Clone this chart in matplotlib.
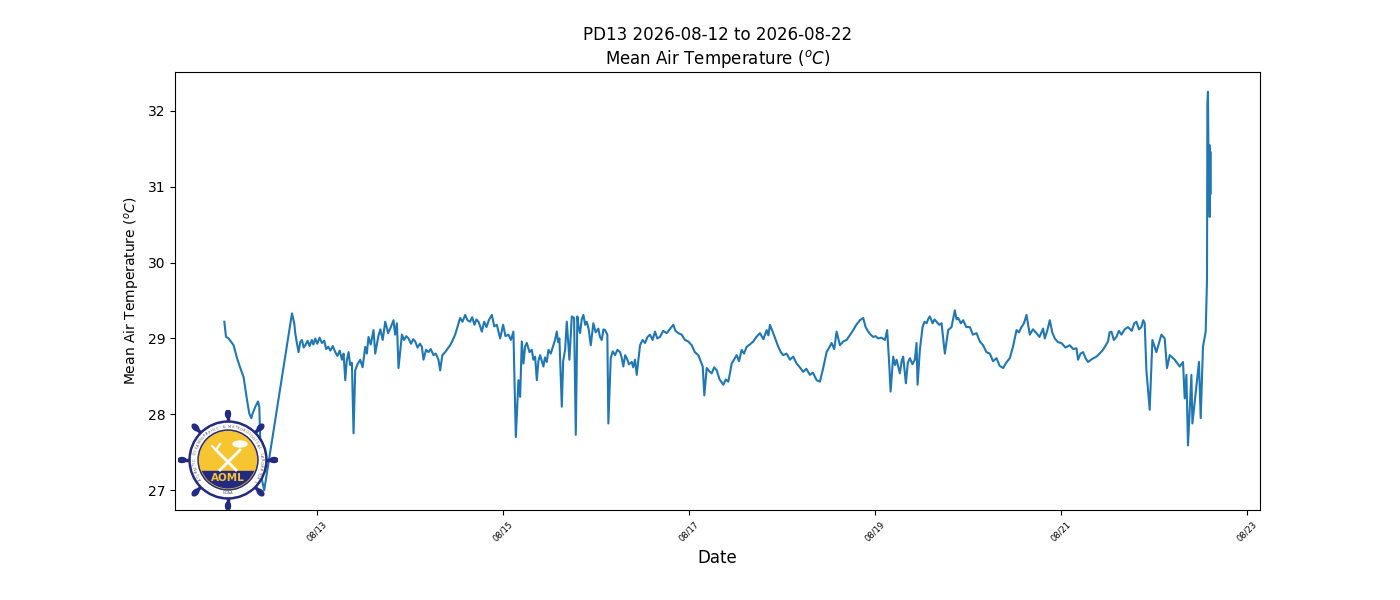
import datetime as dt

import numpy as np
import matplotlib
matplotlib.use('Agg')
from matplotlib import pyplot as plt
import matplotlib.dates as mdates
from matplotlib.patches import Circle, Ellipse, Rectangle

# (hours since 2026-08-12 00:00, mean air temperature in deg C)
aug12 = [(0.0, 29.22), (0.44, 29.02), (1.11, 29.00), (2.40, 28.91), (3.28, 28.74),
         (4.13, 28.61), (4.98, 28.49), (5.86, 28.19), (6.45, 28.01), (6.97, 27.95),
         (7.30, 28.01), (8.00, 28.10), (8.70, 28.17), (9.03, 28.10), (9.55, 27.18),
         (10.14, 27.04), (10.30, 27.00), (17.47, 29.33), (18.06, 29.20), (18.32, 29.07),
         (18.7, 28.95), (19.17, 28.82), (19.6, 28.95), (20.05, 28.98), (20.5, 28.88),
         (20.90, 28.91), (21.5, 28.97), (22.0, 28.90), (22.6, 28.98), (23.0, 28.92),
         (23.48, 29.00)]

aug13 = [(24.0, 28.93), (24.6, 29.01), (25.21, 28.94), (25.8, 28.97), (26.3, 28.86),
         (26.84, 28.89), (27.4, 28.84), (28.0, 28.90), (28.65, 28.82), (29.2, 28.77),
         (29.8, 28.84), (30.37, 28.72), (30.8, 28.80), (31.23, 28.45), (31.6, 28.70),
         (32.08, 28.82), (32.5, 28.65), (32.95, 28.68), (33.37, 27.75), (33.80, 28.58),
         (34.4, 28.66), (35.10, 28.72), (35.7, 28.62), (36.39, 28.89), (36.8, 28.80),
         (37.24, 29.02), (37.8, 28.92), (38.53, 29.11), (38.97, 28.80), (39.74, 29.02),
         (40.3, 29.12), (40.9, 28.98), (41.55, 29.22), (42.32, 29.07), (43.0, 29.15),
         (43.69, 29.24), (44.1, 29.05), (44.57, 29.20), (44.98, 28.61), (45.86, 29.05),
         (46.4, 28.98), (47.0, 29.03), (47.56, 29.00)]

aug14 = [(48.2, 28.93), (48.8, 28.99), (49.29, 28.96), (49.9, 28.88), (50.5, 28.93),
         (51.02, 28.89), (51.43, 28.72), (52.1, 28.85), (52.72, 28.82), (53.3, 28.86),
         (54.01, 28.78), (54.6, 28.80), (55.30, 28.72), (55.74, 28.58), (56.3, 28.78),
         (57.03, 28.82), (57.6, 28.86), (58.32, 28.91), (59.0, 28.98), (59.61, 29.05),
         (60.2, 29.15), (60.90, 29.27), (61.5, 29.22), (62.19, 29.31), (62.8, 29.24),
         (63.48, 29.22), (64.0, 29.28), (64.6, 29.18), (65.1, 29.25), (65.63, 29.22),
         (66.0, 29.17), (66.50, 29.09), (67.1, 29.22), (67.7, 29.15), (68.3, 29.24),
         (69.08, 29.31), (69.7, 29.16), (70.37, 29.18), (71.22, 29.00)]

aug15 = [(72.00, 29.18), (72.6, 29.03), (73.37, 29.05), (74.0, 28.98), (74.66, 29.09),
         (74.91, 28.49), (75.28, 27.70), (75.95, 28.45), (76.39, 28.23), (76.82, 28.96),
         (77.24, 28.67), (77.7, 28.90), (78.12, 28.94), (78.8, 28.82), (79.41, 28.85),
         (79.8, 28.72), (80.26, 28.76), (80.70, 28.45), (81.1, 28.70), (81.55, 28.78),
         (82.0, 28.70), (82.40, 28.63), (82.8, 28.75), (83.28, 28.69), (83.69, 28.85),
         (84.3, 28.80), (84.98, 28.91), (85.4, 28.98), (85.86, 29.09), (86.2, 28.95),
         (86.53, 29.00), (87.15, 28.10), (87.5, 28.70), (88.00, 28.85), (88.44, 29.22),
         (89.11, 28.72), (89.73, 29.29), (90.32, 29.27), (90.76, 27.73), (91.17, 29.29),
         (91.5, 29.15), (91.87, 29.07), (92.3, 29.25), (92.72, 29.31), (93.2, 29.18),
         (93.60, 29.22), (94.1, 29.12), (94.63, 28.91), (95.30, 29.20)]

aug16 = [(95.9, 29.08), (96.59, 29.13), (97.0, 29.02), (97.47, 28.98), (97.9, 29.12),
         (98.32, 29.11), (98.91, 29.05), (99.17, 27.88), (99.79, 28.74), (100.3, 28.83),
         (100.90, 28.78), (101.5, 28.85), (102.19, 28.82), (102.6, 28.75), (103.04, 28.63),
         (103.5, 28.78), (103.92, 28.74), (104.5, 28.66), (105.21, 28.69), (105.6, 28.62),
         (106.06, 28.72), (106.50, 28.52), (107.35, 28.91), (108.0, 28.98), (108.64, 28.94),
         (109.3, 29.02), (109.93, 29.05), (110.6, 28.98), (111.22, 29.09), (111.8, 29.00),
         (112.51, 29.02), (113.3, 29.10), (114.24, 29.07), (115.0, 29.12), (115.95, 29.18),
         (116.5, 29.10), (117.24, 29.07), (118.1, 29.05), (118.97, 28.98)]

aug17 = [(119.8, 28.96), (120.70, 28.91), (121.5, 28.82), (122.40, 28.78), (123.0, 28.70),
         (123.54, 28.63), (123.95, 28.25), (124.57, 28.61), (125.2, 28.57), (125.86, 28.54),
         (126.5, 28.62), (127.15, 28.58), (127.9, 28.46), (128.85, 28.39), (129.5, 28.46),
         (130.14, 28.43), (130.6, 28.55), (131.02, 28.67), (131.6, 28.72), (132.31, 28.78),
         (132.9, 28.70), (133.60, 28.85), (134.2, 28.80), (134.89, 28.89), (135.7, 28.92),
         (136.59, 28.96), (137.4, 29.02), (138.32, 29.07), (139.2, 28.99), (140.05, 29.11),
         (140.5, 29.04), (140.90, 29.18), (141.75, 29.07), (142.4, 28.98), (143.04, 28.89)]

aug18 = [(143.7, 28.82), (144.33, 28.78), (145.2, 28.80), (146.06, 28.72), (146.9, 28.76),
         (147.79, 28.67), (148.6, 28.62), (149.49, 28.56), (150.3, 28.60), (151.22, 28.52),
         (152.0, 28.55), (152.95, 28.45), (153.80, 28.43), (154.65, 28.61), (155.53, 28.82),
         (156.2, 28.88), (156.82, 28.94), (157.5, 28.86), (158.11, 29.09), (158.97, 28.91),
         (159.8, 28.96), (160.69, 28.98), (161.5, 29.04), (162.40, 29.11), (163.2, 29.18),
         (164.13, 29.24), (164.98, 29.27), (165.6, 29.15), (166.27, 29.09), (166.9, 29.05),
         (167.56, 29.02)]

aug19 = [(168.2, 29.03), (168.85, 29.00), (169.7, 29.01), (170.58, 28.98), (171.17, 29.11),
         (171.69, 28.67), (172.05, 28.30), (172.72, 28.76), (173.2, 28.65), (173.60, 28.72),
         (174.45, 28.54), (174.9, 28.70), (175.30, 28.76), (176.00, 28.41), (176.5, 28.68),
         (177.03, 28.74), (177.7, 28.66), (178.32, 28.72), (178.76, 28.94), (179.02, 28.39),
         (179.61, 28.85), (180.31, 29.15), (180.8, 29.22), (181.34, 29.20), (181.8, 29.26),
         (182.19, 29.29), (182.9, 29.20), (183.4, 29.25), (183.92, 29.22), (184.6, 29.18),
         (185.21, 29.20), (186.06, 28.80), (186.92, 29.11), (187.79, 29.15), (188.64, 29.37),
         (189.1, 29.25), (189.50, 29.27), (190.2, 29.20), (190.79, 29.24), (191.6, 29.15)]

aug20 = [(192.52, 29.15), (193.3, 29.05), (194.24, 29.07), (195.1, 28.96), (195.95, 28.91),
         (196.8, 28.82), (197.68, 28.80), (198.5, 28.70), (199.41, 28.74), (200.2, 28.64),
         (201.11, 28.61), (201.9, 28.68), (202.84, 28.74), (203.7, 28.90), (204.57, 29.11),
         (205.2, 29.08), (205.86, 29.15), (206.5, 29.20), (207.15, 29.31), (208.00, 29.05),
         (208.8, 29.12), (209.73, 29.07), (210.5, 29.02), (211.43, 29.13), (211.87, 29.00),
         (212.5, 29.10), (213.16, 29.24), (213.8, 29.08), (214.45, 29.00), (215.3, 28.95)]

aug21 = [(216.18, 28.94), (217.2, 28.88), (218.32, 28.91), (219.2, 28.86), (220.05, 28.87),
         (220.46, 28.72), (221.1, 28.80), (221.75, 28.82), (222.4, 28.74), (223.04, 28.69),
         (224.1, 28.73), (225.21, 28.76), (226.0, 28.80), (226.91, 28.85), (227.5, 28.90),
         (228.20, 28.96), (228.6, 29.08), (229.08, 29.09), (229.7, 28.98), (230.37, 29.02),
         (231.0, 29.10), (231.66, 29.05), (232.5, 29.12), (233.36, 29.15), (234.3, 29.10),
         (235.0, 29.20), (235.53, 29.22), (236.2, 29.12), (236.82, 29.15), (237.3, 29.24),
         (237.67, 29.20), (238.11, 28.58), (238.96, 28.06), (239.66, 28.98)]

aug22 = [(240.69, 28.82), (241.98, 29.05), (242.83, 29.00), (243.43, 28.61), (244.13, 28.78),
         (245.42, 28.72), (246.71, 28.63), (247.56, 28.69), (248.00, 28.21), (248.44, 28.52),
         (248.85, 27.59), (249.73, 28.52), (249.99, 27.88), (250.84, 28.28), (251.69, 28.69),
         (252.13, 27.95), (252.72, 28.89), (253.42, 29.09), (253.76, 29.77), (253.86, 32.10),
         (254.01, 32.25), (254.12, 31.50), (254.27, 30.70), (254.38, 31.55), (254.45, 30.60),
         (254.53, 31.50), (254.63, 30.90), (254.71, 31.45)]

tick_days = [13, 15, 17, 19, 21, 23]

records = aug12 + aug13 + aug14 + aug15 + aug16 + aug17 + aug18 + aug19 + aug20 + aug21 + aug22
start = dt.datetime(2026, 8, 12)
times = [start + dt.timedelta(hours=h) for h, _ in records]
temps = [t for _, t in records]

fig = plt.figure(figsize=(14, 6), dpi=100)
ax = fig.add_subplot(111)
fig.subplots_adjust(left=0.125, right=0.9, top=0.88, bottom=0.15)

ax.plot(times, temps, color='C0', linewidth=1.5)
ax.set_title('PD13 2026-08-12 to 2026-08-22\nMean Air Temperature ($^oC$)')
ax.set_ylabel('Mean Air Temperature ($^oC$)')
ax.set_xlabel('Date', fontsize=12)
ax.xaxis.set_major_locator(mdates.DayLocator(bymonthday=tick_days))
ax.xaxis.set_major_formatter(mdates.DateFormatter('%m/%d'))
plt.setp(ax.get_xticklabels(), rotation=45, fontsize=6)
ax.set_ylim(26.74, 32.51)

# AOML badge in the lower left corner, drawn with patches
navy = '#232a82'
gold = '#f7c531'
logo = fig.add_axes([178 / 1400, 90 / 600, 100 / 1400, 100 / 600], zorder=5)
logo.set_xlim(-50, 50)
logo.set_ylim(-50, 50)
logo.set_aspect('equal')
logo.axis('off')

for k in range(8):
    a = np.deg2rad(k * 45)
    logo.plot([0, 44 * np.cos(a)], [0, 44 * np.sin(a)], color=navy, lw=2.5, zorder=1)
    logo.add_patch(Ellipse((46 * np.cos(a), 46 * np.sin(a)), 8, 5,
                           angle=k * 45, color=navy, zorder=2))
logo.add_patch(Circle((0, 0), 39, color=navy, zorder=3))
logo.add_patch(Circle((0, 0), 36.5, color='white', zorder=4))
logo.add_patch(Circle((0, 0), 30, color=navy, zorder=5))
disc = Circle((0, 0), 28.5, color=gold, zorder=6)
logo.add_patch(disc)
water = Rectangle((-30, -30), 60, 19, color=navy, zorder=7)
logo.add_patch(water)
water.set_clip_path(disc)

ring = 'ATLANTIC OCEANOGRAPHIC & METEOROLOGICAL LABORATORY'
angs = np.linspace(215, -35, len(ring))
for ch, a in zip(ring, angs):
    r = np.deg2rad(a)
    logo.text(33.2 * np.cos(r), 33.2 * np.sin(r), ch, fontsize=2.6, color='#555555',
              ha='center', va='center', rotation=a - 90, zorder=8)
logo.text(0, -33.5, 'NOAA', fontsize=2.6, color='#555555', ha='center', va='center', zorder=8)

logo.plot([-12, 8], [10, -10], color='white', lw=2, zorder=9)
logo.plot([12, -8], [10, -10], color='white', lw=2, zorder=9)
logo.plot([-16, -12, -8], [14, 10, 16], color='white', lw=1.5, zorder=9)
logo.add_patch(Ellipse((12, 16), 14, 6, color='white', zorder=9))
logo.text(0, -18, 'AOML', fontsize=7.5, fontweight='bold', color=gold,
          ha='center', va='center', zorder=10)

fig.savefig('out.png', dpi=100)
